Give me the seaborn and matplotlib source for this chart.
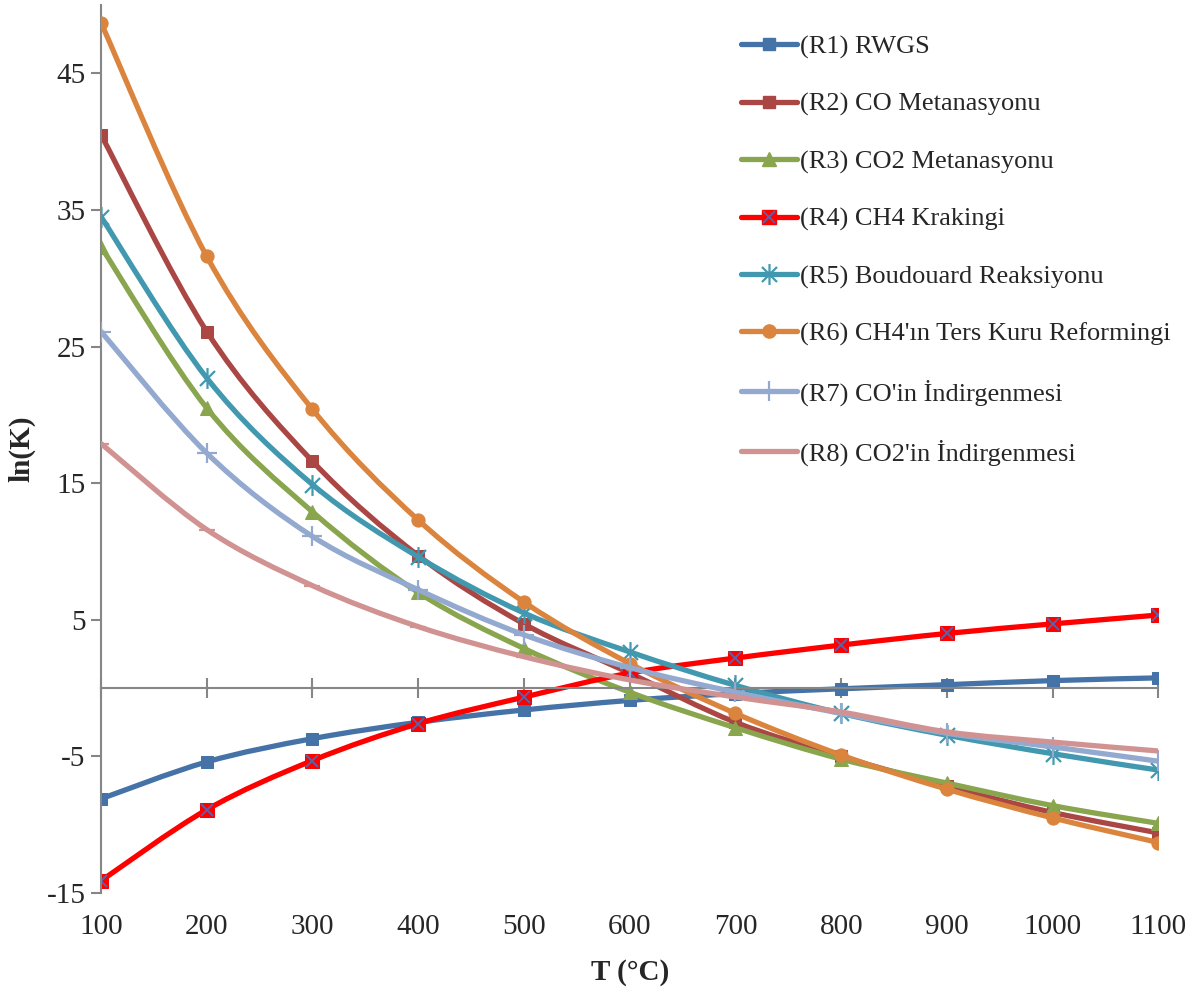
import numpy as np
import pandas as pd
import matplotlib
matplotlib.use("Agg")
import matplotlib.pyplot as plt
from matplotlib.path import Path
from matplotlib.patches import PathPatch
from matplotlib.lines import Line2D
from matplotlib.legend_handler import HandlerTuple
import seaborn as sns

T = [100, 200, 300, 400, 500, 600, 700, 800, 900, 1000, 1100]
R1 = [-8.1, -5.4, -3.7, -2.5, -1.6, -0.9, -0.4, -0.05, 0.25, 0.55, 0.75]
R2 = [40.5, 26.1, 16.6, 9.7, 4.7, 1.1, -2.5, -5.0, -7.2, -9.1, -10.6]
R3 = [32.3, 20.5, 12.9, 7.0, 2.9, -0.3, -2.9, -5.2, -6.95, -8.6, -9.9]
R4 = [-14.1, -8.9, -5.3, -2.6, -0.66, 1.1, 2.2, 3.15, 4.0, 4.7, 5.35]
R5 = [34.5, 22.7, 14.9, 9.6, 5.5, 2.65, 0.2, -1.85, -3.45, -4.8, -6.0]
R6 = [48.7, 31.6, 20.4, 12.3, 6.3, 1.8, -1.85, -4.9, -7.4, -9.5, -11.3]
R7 = [26.1, 17.2, 11.1, 7.2, 3.9, 1.5, -0.3, -1.85, -3.3, -4.3, -5.35]
R8 = [17.9, 11.6, 7.5, 4.5, 2.3, 0.6, -0.65, -1.75, -3.2, -3.95, -4.6]

labels = ["(R1) RWGS", "(R2) CO Metanasyonu", "(R3) CO2 Metanasyonu",
          "(R4) CH4 Krakingi", "(R5) Boudouard Reaksiyonu",
          "(R6) CH4'ın Ters Kuru Reformingi", "(R7) CO'in İndirgenmesi",
          "(R8) CO2'in İndirgenmesi"]
series = [R1, R2, R3, R4, R5, R6, R7, R8]
colors = ["#4572A7", "#AA4643", "#89A54E", "#FF0000", "#4198AF",
          "#DB843D", "#93A9CF", "#D19392"]
star = Path([(0, -1), (0, 1), (-0.72, -0.72), (0.72, 0.72), (-0.72, 0.72), (0.72, -0.72)],
            [Path.MOVETO, Path.LINETO, Path.MOVETO, Path.LINETO, Path.MOVETO, Path.LINETO])
markers = ["s", "s", "^", "s", star, "o", "+", "_"]
msizes = [9, 9, 10, 9.5, 15, 9.5, 14, 11]
line_markers = ["+", "_"]
yticks = [-15, -5, 5, 15, 25, 35, 45]

sns.set_style("white")
plt.rcParams["font.family"] = ["Liberation Serif", "DejaVu Serif"]
plt.rcParams["axes.unicode_minus"] = False

fig = plt.figure(figsize=(11.94, 9.89), dpi=100)
ax = fig.add_axes([0.0846, 0.097, 0.8856, 0.898])

def smooth_path(xs, ys):
    xs = np.asarray(xs, float); ys = np.asarray(ys, float)
    px = np.concatenate([[xs[0]], xs, [xs[-1]]])
    py = np.concatenate([[ys[0]], ys, [ys[-1]]])
    verts = [(xs[0], ys[0])]
    codes = [Path.MOVETO]
    for i in range(1, len(px) - 2):
        c1 = (px[i] + (px[i + 1] - px[i - 1]) / 6, py[i] + (py[i + 1] - py[i - 1]) / 6)
        c2 = (px[i + 1] - (px[i + 2] - px[i]) / 6, py[i + 1] - (py[i + 2] - py[i]) / 6)
        verts += [c1, c2, (px[i + 1], py[i + 1])]
        codes += [Path.CURVE4] * 3
    return Path(verts, codes)

def is_line_marker(m):
    return isinstance(m, Path) or m in line_markers

for i, (s, c, m, ms, lab) in enumerate(zip(series, colors, markers, msizes, labels)):
    patch = PathPatch(smooth_path(T, s), facecolor="none", edgecolor=c, lw=3.8,
                      capstyle="round", joinstyle="round", zorder=2 + i * 0.1)
    ax.add_patch(patch)
    if is_line_marker(m):
        sns.lineplot(x=T, y=s, ax=ax, linestyle="", marker=m, markersize=ms,
                     markeredgecolor=c, markeredgewidth=1.6, color=c,
                     zorder=2.05 + i * 0.1)
    else:
        sns.lineplot(x=T, y=s, ax=ax, linestyle="", marker=m, markersize=ms,
                     markeredgecolor=c, markerfacecolor=c, color=c,
                     zorder=2.05 + i * 0.1)
    if i == 3:
        sns.lineplot(x=T, y=s, ax=ax, linestyle="", marker="x", markersize=8,
                     markeredgecolor="#5B63A8", markeredgewidth=1.4, color="#5B63A8",
                     zorder=2.07 + i * 0.1)

ax.set_xlim(100, 1100)
ax.set_ylim(-15, 50)
ax.set_yticks(yticks)
ax.set_xticks(T)

gray = "#868686"
for side in ["top", "right"]:
    ax.spines[side].set_visible(False)
ax.spines["left"].set_color(gray)
ax.spines["left"].set_linewidth(1.5)
ax.spines["bottom"].set_position(("data", 0))
ax.spines["bottom"].set_color(gray)
ax.spines["bottom"].set_linewidth(1.5)
ax.tick_params(axis="x", direction="inout", length=14, width=1.5, color=gray,
               labelbottom=False, bottom=True)
ax.tick_params(axis="y", direction="out", length=7, width=1.5, color=gray,
               labelsize=21, pad=4, left=True)

sec = ax.secondary_xaxis(0)
sec.set_xticks(T)
sec.tick_params(length=0, labelsize=21, pad=15)
sec.spines["bottom"].set_visible(False)
sec.set_xlabel("T (°C)", fontsize=21, fontweight="bold", labelpad=14)

ax.set_ylabel("ln(K)", fontsize=21, fontweight="bold", labelpad=8)

handles = []
for i, (c, m, ms, lab) in enumerate(zip(colors, markers, msizes, labels)):
    if is_line_marker(m):
        h = Line2D([], [], color=c, lw=3.8, marker=m, markersize=ms,
                   markeredgewidth=1.6, markeredgecolor=c)
    else:
        h = Line2D([], [], color=c, lw=3.8, marker=m, markersize=ms,
                   markerfacecolor=c, markeredgecolor=c)
    if i == 3:
        hx = Line2D([], [], linestyle="", marker="x", markersize=8,
                    markeredgecolor="#5B63A8", markeredgewidth=1.4)
        h = (h, hx)
    handles.append(h)
leg = ax.legend(handles, labels, loc="upper left", bbox_to_anchor=(0.605, 0.966),
                frameon=False, fontsize=19, labelspacing=1.27, handlelength=2.15,
                handletextpad=0.1, numpoints=1, borderpad=0, borderaxespad=0,
                handler_map={tuple: HandlerTuple(ndivide=1, pad=0)})

fig.savefig("out.png", dpi=100)
